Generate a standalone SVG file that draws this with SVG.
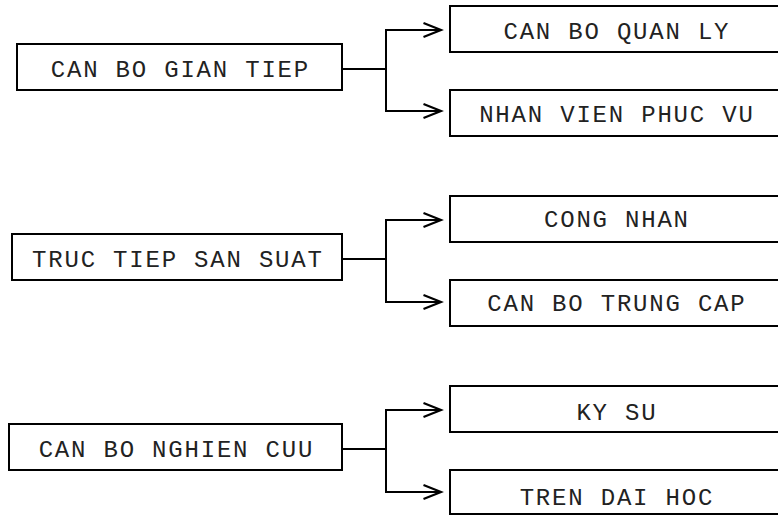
<svg xmlns="http://www.w3.org/2000/svg" width="778" height="515" viewBox="0 0 778 515">
  <defs>
    <style>
      .box { fill: #ffffff; stroke: #000000; stroke-width: 2; }
      .lbl { font-family: "Courier New", "Liberation Mono", monospace; font-size: 24px; letter-spacing: 1.8px; fill: #222222; text-anchor: middle; }
      .conn { fill: none; stroke: #000000; stroke-width: 2; }
    </style>
    <marker id="arrow" markerUnits="userSpaceOnUse" markerWidth="24" markerHeight="20" viewBox="0 0 24 20" refX="20" refY="10" orient="auto">
      <path d="M2.5,3 L20,10 L2.5,17" fill="none" stroke="#000000" stroke-width="2.2"/>
    </marker>
  </defs>
  <rect width="778" height="515" fill="#ffffff"/>

  <g id="connectors">
    <path class="conn" d="M342,69 H386"/>
    <path class="conn" d="M386,69 V30 H441" marker-end="url(#arrow)"/>
    <path class="conn" d="M386,69 V111 H441" marker-end="url(#arrow)"/>
    <path class="conn" d="M342,259 H386"/>
    <path class="conn" d="M386,259 V220 H441" marker-end="url(#arrow)"/>
    <path class="conn" d="M386,259 V302 H441" marker-end="url(#arrow)"/>
    <path class="conn" d="M342,449 H386"/>
    <path class="conn" d="M386,449 V410 H441" marker-end="url(#arrow)"/>
    <path class="conn" d="M386,449 V492 H441" marker-end="url(#arrow)"/>
  </g>

  <g id="can-bo-gian-tiep">
    <rect class="box" x="17" y="44" width="325" height="46"/>
    <text class="lbl" x="180.4" y="77">CAN BO GIAN TIEP</text>
  </g>
  <g id="can-bo-quan-ly">
    <rect class="box" x="450" y="6" width="334" height="46"/>
    <text class="lbl" x="616.9" y="39">CAN BO QUAN LY</text>
  </g>
  <g id="nhan-vien-phuc-vu">
    <rect class="box" x="450" y="90" width="334" height="46"/>
    <text class="lbl" x="616.9" y="122">NHAN VIEN PHUC VU</text>
  </g>

  <g id="truc-tiep-san-suat">
    <rect class="box" x="12" y="234" width="330" height="46"/>
    <text class="lbl" x="177.9" y="267">TRUC TIEP SAN SUAT</text>
  </g>
  <g id="cong-nhan">
    <rect class="box" x="450" y="196" width="334" height="46"/>
    <text class="lbl" x="616.9" y="227">CONG NHAN</text>
  </g>
  <g id="can-bo-trung-cap">
    <rect class="box" x="450" y="280" width="334" height="46"/>
    <text class="lbl" x="616.9" y="311">CAN BO TRUNG CAP</text>
  </g>

  <g id="can-bo-nghien-cuu">
    <rect class="box" x="9" y="424" width="333" height="46"/>
    <text class="lbl" x="176.4" y="457">CAN BO NGHIEN CUU</text>
  </g>
  <g id="ky-su">
    <rect class="box" x="450" y="386" width="334" height="46"/>
    <text class="lbl" x="616.9" y="420">KY SU</text>
  </g>
  <g id="tren-dai-hoc">
    <rect class="box" x="450" y="470" width="334" height="44"/>
    <text class="lbl" x="616.9" y="505">TREN DAI HOC</text>
  </g>
</svg>
